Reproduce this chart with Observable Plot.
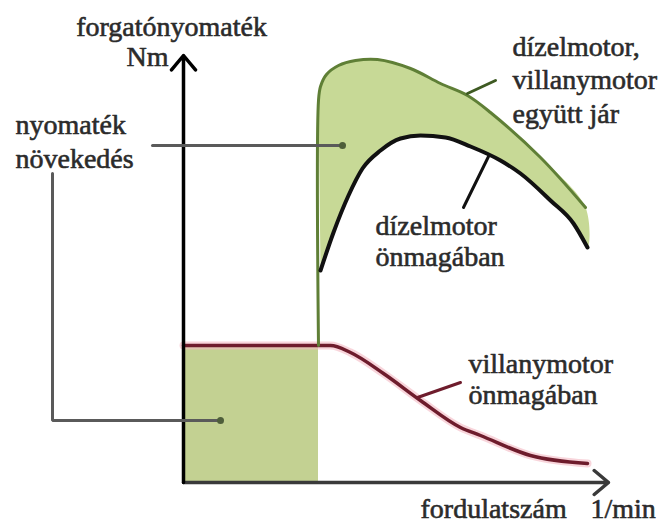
<!DOCTYPE html>
<html>
<head>
<meta charset="utf-8">
<script src="https://cdn.jsdelivr.net/npm/d3@7"></script>
<script src="https://cdn.jsdelivr.net/npm/@observablehq/plot@0.6"></script>
<style>
  html, body { margin: 0; padding: 0; background: #fff; }
  svg { display: block; }
</style>
</head>
<body>
<div id="chart"></div>
<script>
// Schematic values (rpm, Nm — arbitrary schematic units)
const electricRpm = [0, 1470, 1670, 2000, 2370, 2770, 2970, 3470, 4040];
const electricNm  = [137, 137, 130, 109, 82, 55, 47, 27, 19];

const dieselRpm = [1370, 1500, 1650, 1790, 1970, 2170, 2370, 2620, 2870, 3170, 3370, 3670, 3900, 4040];
const dieselNm  = [212, 250, 287, 314, 332, 344, 347, 345, 336, 322, 309, 282, 259, 235];

const combinedRpm = [1350, 1350, 1370, 1430, 1550, 1720, 1940, 2270, 2570, 2840, 3070, 3570, 4020];
const combinedNm  = [137, 382, 396, 408, 417, 422, 423, 414, 399, 387, 370, 325, 275];

const electricOnlyUntil = 1350; // rpm where diesel engine joins

const labels = {
  yTitle: "forgatónyomaték",
  yUnit: "Nm",
  gain: "nyomaték\nnövekedés",
  combined: "dízelmotor,\nvillanymotor\negyütt jár",
  diesel: "dízelmotor\nönmagában",
  electric: "villanymotor\nönmagában",
  xTitle: "fordulatszám",
  xUnit: "1/min"
};

const zip = (xs, ys) => xs.map((x, i) => ({x, y: ys[i]}));
const electric = zip(electricRpm, electricNm);
const diesel = zip(dieselRpm, dieselNm);
const combined = zip(combinedRpm, combinedNm);
const gainPolygon = combined.slice(1).concat(diesel.slice().reverse());
const electricBlock = [{x1: 0, x2: electricOnlyUntil, y1: 0, y2: electricNm[0]}];

const font = "'Liberation Serif', 'Times New Roman', serif";
const txt = "#2b2b2b";
const FS = 28;
const T = {fontSize: FS, fill: txt, fontFamily: font, stroke: txt, strokeWidth: 0.6};

const chart = Plot.plot({
  width: 665,
  height: 524,
  marginLeft: 183,
  marginRight: 57,
  marginTop: 55,
  marginBottom: 42,
  x: {domain: [0, 4250], axis: null},
  y: {domain: [0, 427], axis: null},
  style: {background: "#fff", fontFamily: font, overflow: "visible"},
  marks: [
    // green fills
    Plot.rect(electricBlock, {x1: "x1", x2: "x2", y1: "y1", y2: "y2", fill: "#c3d192"}),
    Plot.line(gainPolygon, {x: "x", y: "y", fill: "#c7d996", stroke: "none", curve: "catmull-rom"}),
    // electric motor (with pinkish halo)
    Plot.line(electric, {x: "x", y: "y", stroke: "#f3b9c3", strokeWidth: 8, strokeOpacity: 0.6, curve: "monotone-x"}),
    Plot.line(electric, {x: "x", y: "y", stroke: "#6e1c2c", strokeWidth: 3.5, curve: "monotone-x"}),
    // combined
    Plot.line(combined, {x: "x", y: "y", stroke: "#5f7f36", strokeWidth: 3, curve: "catmull-rom"}),
    // diesel alone
    Plot.line(diesel, {x: "x", y: "y", stroke: "#111", strokeWidth: 4, curve: "monotone-x"}),
    // axes
    Plot.arrow([{x1: 0, y1: 0, x2: 4250, y2: 0}], {x1: "x1", y1: "y1", x2: "x2", y2: "y2", stroke: "#3a3a3a", strokeWidth: 3.5, headLength: 8, headAngle: 80}),
    Plot.arrow([{x1: 0, y1: 0, x2: 0, y2: 427}], {x1: "x1", y1: "y1", x2: "x2", y2: "y2", stroke: "#000", strokeWidth: 3.5, headLength: 8, headAngle: 80}),
    // leader lines
    Plot.line([{x: -310, y: 337}, {x: 1590, y: 337}], {x: "x", y: "y", stroke: "#5a5a5a", strokeWidth: 3}),
    Plot.line([{x: -1310, y: 309}, {x: -1310, y: 62}, {x: 370, y: 62}], {x: "x", y: "y", stroke: "#5a5a5a", strokeWidth: 3, strokeLinejoin: "miter"}),
    Plot.dot([{x: 1590, y: 337}, {x: 370, y: 62}], {x: "x", y: "y", r: 3.5, fill: "#4e5e3a"}),
    Plot.line([{x: 2840, y: 389}, {x: 3120, y: 402}], {x: "x", y: "y", stroke: "#3e5a22", strokeWidth: 3}),
    Plot.line([{x: 3050, y: 326}, {x: 2800, y: 275}], {x: "x", y: "y", stroke: "#111", strokeWidth: 3}),
    Plot.line([{x: 2340, y: 85}, {x: 2770, y: 100}], {x: "x", y: "y", stroke: "#6e1c2c", strokeWidth: 3}),
    // texts
    Plot.text([labels.yTitle], {x: -120, y: 455, text: d => d, textAnchor: "middle", ...T}),
    Plot.text([labels.yUnit], {x: -150, y: 425, text: d => d, textAnchor: "end", ...T}),
    Plot.text([labels.gain], {x: -1680, y: 342, text: d => d, textAnchor: "start", lineHeight: 1.2, ...T}),
    Plot.text([labels.combined], {x: 3290, y: 404, text: d => d, textAnchor: "start", lineHeight: 1.2, ...T}),
    Plot.text([labels.diesel], {x: 1920, y: 242, text: d => d, textAnchor: "start", lineHeight: 1.12, ...T}),
    Plot.text([labels.electric], {x: 2850, y: 104, text: d => d, textAnchor: "start", lineHeight: 1.12, ...T}),
    Plot.text([labels.xTitle], {x: 2370, y: -27, text: d => d, textAnchor: "start", ...T}),
    Plot.text([labels.xUnit], {x: 4070, y: -27, text: d => d, textAnchor: "start", ...T})
  ]
});
d3.select(chart).selectAll("text").style("font-family", "'Liberation Serif', 'Times New Roman', serif");
document.getElementById("chart").appendChild(chart);
</script>
</body>
</html>
